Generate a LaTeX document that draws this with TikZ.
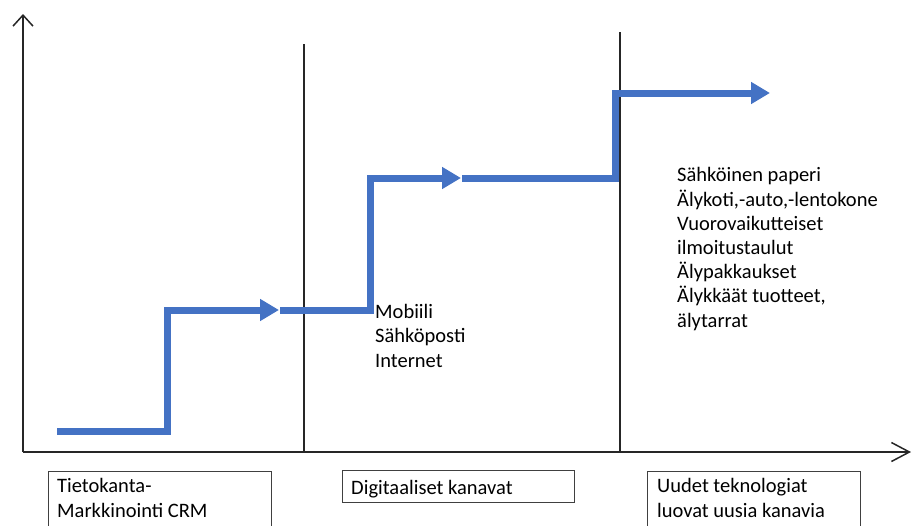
\documentclass[tikz,border=0pt]{standalone}
\usepackage{fontspec}
\setmainfont{Carlito}
\usetikzlibrary{arrows.meta}
\definecolor{stepblue}{HTML}{4472C4}
\definecolor{boxgray}{HTML}{404040}
\tikzset{
  axis/.style={draw=black!85, line width=1.5pt},
  divider/.style={draw=black!85, line width=1.1pt},
  stepline/.style={draw=stepblue, line width=7pt, line join=miter, line cap=butt},
  bluehead/.style={-{Triangle[length=19pt 0 0, width=21pt 0 0]}},
  labelbox/.style={draw=boxgray, line width=0.8pt, anchor=north west, inner sep=0pt},
  % multi-line text is placed by the baseline of its last line
  txt/.style={font=\fontsize{20.5pt}{24.2pt}\selectfont, align=left, anchor=base west, inner sep=0pt}
}
\begin{document}
\begin{tikzpicture}[x=1pt, y=-1pt]
\useasboundingbox (0,0) rectangle (913,525);
\clip (0,0) rectangle (913,525);

% axes
\coordinate (O) at (23,452);
\coordinate (ytop) at (23,14);
\coordinate (xend) at (911,452);
\draw[axis, -{Straight Barb[length=11pt 0 0, width=20pt 0 0, line width=1.5pt]}] (O) -- (ytop);
\draw[axis, -{Straight Barb[length=18pt 0 0, width=19pt 0 0, line width=1.5pt]}] (O) -- (xend);

% period dividers
\coordinate (d1top) at (304,44);
\coordinate (d1bot) at (304,452);
\coordinate (d2top) at (620,32);
\coordinate (d2bot) at (620,452);
\draw[divider] (d1top) -- (d1bot);
\draw[divider] (d2top) -- (d2bot);

% stepped development line
\coordinate (s1a) at (57,431);
\coordinate (s1b) at (167,431);
\coordinate (s1c) at (167,310);
\coordinate (s1d) at (279,310);
\coordinate (s2a) at (280,310);
\coordinate (s2b) at (370,310);
\coordinate (s2c) at (370,178);
\coordinate (s2d) at (461,178);
\coordinate (s3a) at (462,178);
\coordinate (s3b) at (615,178);
\coordinate (s3c) at (615,93);
\coordinate (s3d) at (770,93);
\draw[stepline, bluehead] (s1a) -- (s1b) -- (s1c) -- (s1d);
\draw[stepline, bluehead] (s2a) -- (s2b) -- (s2c) -- (s2d);
\draw[stepline, bluehead] (s3a) -- (s3b) -- (s3c) -- (s3d);

% channel lists
\node[txt] (digi) at (375,367) {Mobiili\\Sähköposti\\Internet};
\node[txt] (uudet) at (677,327) {Sähköinen paperi\\Älykoti,-auto,-lentokone\\Vuorovaikutteiset\\ilmoitustaulut\\Älypakkaukset\\Älykkäät tuotteet,\\älytarrat};

% period labels
\node[labelbox, minimum width=223pt, minimum height=70pt] (b1) at (48,471) {};
\node[labelbox, minimum width=232pt, minimum height=32pt] (b2) at (342,470) {};
\node[labelbox, minimum width=213pt, minimum height=70pt] (b3) at (647,471) {};
\node[txt] (t1) at ([xshift=9pt, yshift=-46pt]b1.north west) {Tietokanta-\\Markkinointi CRM};
\node[txt] (t2) at ([xshift=9pt, yshift=-24pt]b2.north west) {Digitaaliset kanavat};
\node[txt] (t3) at ([xshift=10pt, yshift=-46pt]b3.north west) {Uudet teknologiat\\luovat uusia kanavia};
\end{tikzpicture}
\end{document}
